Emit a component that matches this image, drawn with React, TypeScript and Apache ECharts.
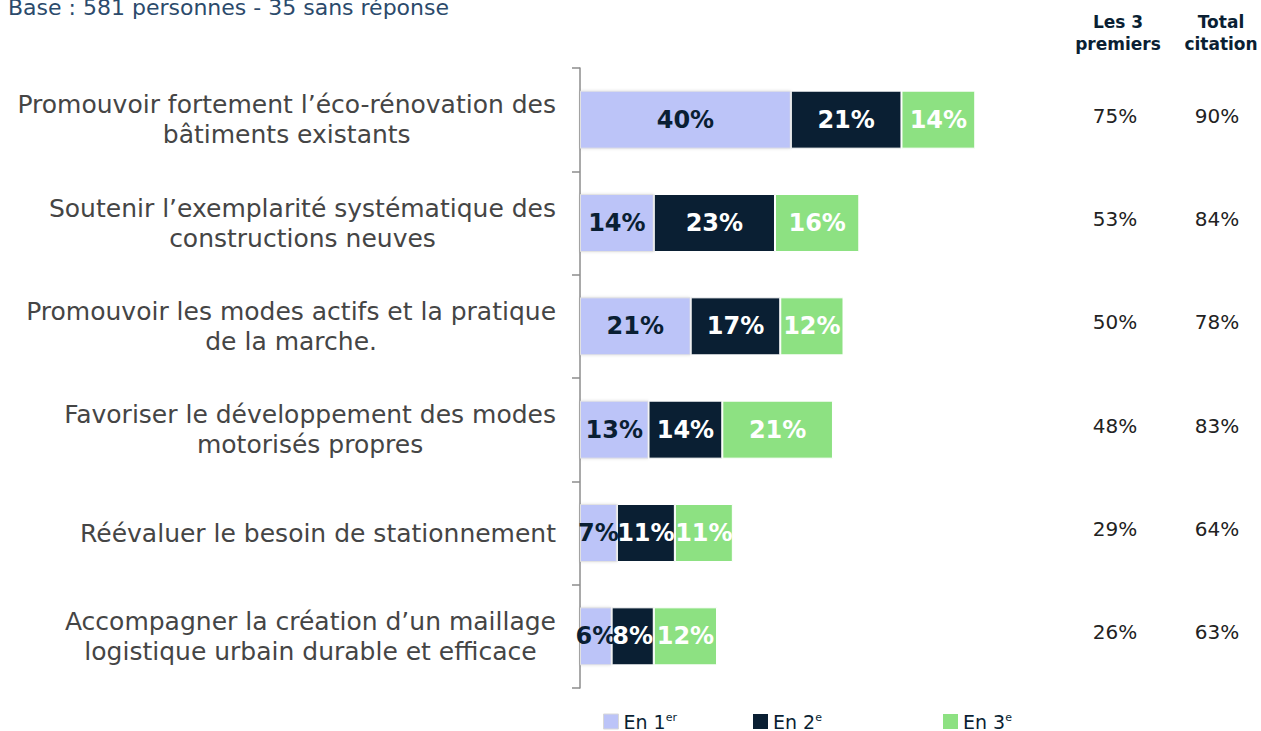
import React, { useEffect, useRef } from "react";
import * as echarts from "echarts";

const categories = [
  "Promouvoir fortement l’éco-rénovation des\nbâtiments existants",
  "Soutenir l’exemplarité systématique des\nconstructions neuves",
  "Promouvoir les modes actifs et la pratique\nde la marche.",
  "Favoriser le développement des modes\nmotorisés propres",
  "Réévaluer le besoin de stationnement",
  "Accompagner la création d’un maillage\nlogistique urbain durable et efficace",
];
const first = [40, 14, 21, 13, 7, 6];
const second = [21, 23, 17, 14, 11, 8];
const third = [14, 16, 12, 21, 11, 12];
const top3 = [75, 53, 50, 48, 29, 26];
const totalCitation = [90, 84, 78, 83, 64, 63];
const seriesNames = ["En 1er", "En 2e", "En 3e"];
const seriesSup = ["er", "e", "e"];
const seriesBase = ["En 1", "En 2", "En 3"];
const title = "Base : 581 personnes - 35 sans réponse";

const BLUE = "#BCC4F8";
const NAVY = "#0A1F33";
const GREEN = "#8DE182";
const FONT = "'DejaVu Sans', sans-serif";

export default function App() {
  const ref = useRef<HTMLDivElement>(null);
  useEffect(() => {
    if (!ref.current) return;
    const chart = echarts.init(ref.current, null, { renderer: "svg" });
    const barLabel = (color: string) => ({
      show: true,
      position: "inside",
      color,
      fontFamily: FONT,
      fontWeight: "bold",
      fontSize: 24,
      formatter: (p: any) => `${p.value}%`,
    });
    const legendColors = [BLUE, NAVY, GREEN];
    const mkLegend = (i: number, left: number) => ({
      left,
      top: 712,
      padding: 0,
      data: [seriesNames[i]],
      itemWidth: 15,
      itemHeight: 15,
      itemGap: 4,
      icon: "rect",
      itemStyle: {
        color: legendColors[i],
        borderColor: i === 0 ? "#d8d8d8" : legendColors[i],
        borderWidth: i === 0 ? 1 : 0,
      },
      formatter: () => `{b|${seriesBase[i]}}{s|${seriesSup[i]}}`,
      textStyle: {
        rich: {
          b: { fontFamily: FONT, fontSize: 19, color: NAVY, lineHeight: 19 },
          s: { fontFamily: FONT, fontSize: 11, color: NAVY, verticalAlign: "top", lineHeight: 11 },
        },
      },
    });
    const option: any = {
      animation: false,
      title: {
        text: title,
        left: 3,
        top: -9,
        textStyle: { fontFamily: FONT, fontWeight: "normal", fontSize: 22, color: "#2B4A6B" },
      },
      legend: [mkLegend(0, 603), mkLegend(1, 753), mkLegend(2, 943)],
      graphic: [
        {
          type: "text",
          x: 1118,
          y: 11,
          style: {
            text: "Les 3\npremiers",
            align: "center",
            fontFamily: FONT,
            fontWeight: "bold",
            fontSize: 17,
            lineHeight: 22,
            fill: NAVY,
          },
        },
        {
          type: "text",
          x: 1221,
          y: 11,
          style: {
            text: "Total\ncitation",
            align: "center",
            fontFamily: FONT,
            fontWeight: "bold",
            fontSize: 17,
            lineHeight: 22,
            fill: NAVY,
          },
        },
      ],
      grid: { left: 580, right: 154, top: 68, bottom: 43, containLabel: false },
      xAxis: { type: "value", min: 0, max: 100, show: false },
      yAxis: [
        {
          type: "category",
          data: categories,
          inverse: true,
          axisLine: { show: true, lineStyle: { color: "#8c8c8c", width: 1.5 } },
          axisTick: { show: true, length: 8, lineStyle: { color: "#8c8c8c", width: 1.5 } },
          axisLabel: {
            margin: 24,
            align: "right",
            formatter: (v: string) =>
              v.split("\n").map((l) => `{c|${l}}`).join("\n"),
            rich: {
              c: { align: "center", fontFamily: FONT, fontSize: 25, lineHeight: 30, color: "#454545" },
            },
          },
        },
        {
          type: "category",
          data: categories,
          inverse: true,
          position: "right",
          offset: -42,
          axisLine: { show: false },
          axisTick: { show: false },
          axisLabel: {
            margin: 0,
            align: "left",
            formatter: (_v: string, i: number) => `{a|${top3[i]}%}{b|${totalCitation[i]}%}`,
            rich: {
              a: { width: 100, align: "center", fontFamily: FONT, fontSize: 20, color: "#222", padding: [0, 0, 8, 0] },
              b: { width: 104, align: "center", fontFamily: FONT, fontSize: 20, color: "#222", padding: [0, 0, 8, 0] },
            },
          },
        },
      ],
      series: [
        {
          name: seriesNames[0],
          type: "bar",
          stack: "s",
          barWidth: 58,
          data: first,
          itemStyle: {
            color: BLUE,
            borderColor: "#e2e2e2",
            borderWidth: 1,
            shadowColor: "rgba(0,0,0,0.12)",
            shadowBlur: 3,
          },
          label: barLabel(NAVY),
        },
        {
          name: seriesNames[1],
          type: "bar",
          stack: "s",
          data: second,
          itemStyle: { color: NAVY, borderColor: "#fff", borderWidth: 1 },
          label: barLabel("#fff"),
        },
        {
          name: seriesNames[2],
          type: "bar",
          stack: "s",
          data: third,
          itemStyle: { color: GREEN, borderColor: "#fff", borderWidth: 1 },
          label: barLabel("#fff"),
        },
      ],
    };
    chart.setOption(option);
    return () => chart.dispose();
  }, []);
  return (
    <div
      ref={ref}
      style={{ position: "absolute", left: 0, top: 0, width: 1261, height: 731 }}
    />
  );
}
